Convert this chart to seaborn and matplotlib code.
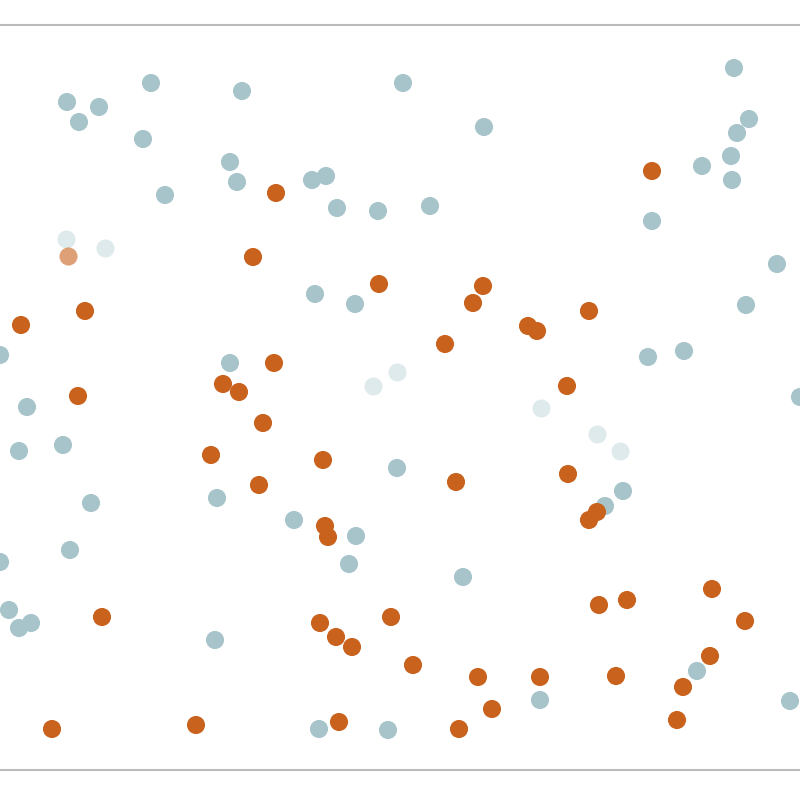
import matplotlib
matplotlib.use("Agg")
import matplotlib.pyplot as plt
import seaborn as sns
import pandas as pd

# --- data (canvas-like units, y grows downward) ---
blue_x = [67, 79, 99, 151, 143, 242, 165, 230, 237, 312, 326, 337, 378, 430, 403, 484,
          734, 749, 737, 731, 732, 702, 652, 777, 746, 684, 648, 315, 355, 230, 0, 27,
          19, 63, 91, 217, 294, 356, 349, 397, 463, 623, 605, 800, 70, 9, 19, 31, 215,
          697, 540, 790, 319, 388, 0]
blue_y = [102, 122, 107, 83, 139, 91, 195, 162, 182, 180, 176, 208, 211, 206, 83, 127,
          68, 119, 133, 156, 180, 166, 221, 264, 305, 351, 357, 294, 304, 363, 355, 407,
          451, 445, 503, 498, 520, 536, 564, 468, 577, 491, 506, 397, 550, 610, 628, 623,
          640, 671, 700, 701, 729, 730, 562]

orange_x = [276, 652, 253, 85, 21, 379, 483, 473, 528, 537, 589, 445, 274, 223, 239, 78,
            567, 263, 211, 323, 259, 456, 568, 325, 328, 589, 597, 102, 320, 336, 352, 391,
            599, 627, 712, 745, 710, 683, 616, 540, 478, 413, 492, 459, 339, 196, 52, 677]
orange_y = [193, 171, 257, 311, 325, 284, 286, 303, 326, 331, 311, 344, 363, 384, 392, 396,
            386, 423, 455, 460, 485, 482, 474, 526, 537, 520, 512, 617, 623, 637, 647, 617,
            605, 600, 589, 621, 656, 687, 676, 677, 677, 665, 709, 729, 722, 725, 729, 720]

# faint, blurred points (mid-transition)
ghost_blue_x = [66, 105, 373, 397, 541, 597, 620]
ghost_blue_y = [239, 248, 386, 372, 408, 434, 451]
ghost_orange_x = [68]
ghost_orange_y = [256]

BLUE = "#a6c4c9"
ORANGE = "#c9621c"

df = pd.concat([
    pd.DataFrame({"x": blue_x, "y": blue_y, "grp": "a"}),
    pd.DataFrame({"x": orange_x, "y": orange_y, "grp": "b"}),
])

sns.set_style("white")
fig = plt.figure(figsize=(8, 8), dpi=100)
ax = fig.add_axes([0, 1 - 770 / 800, 1, (770 - 25) / 800])

sns.scatterplot(data=df, x="x", y="y", hue="grp", palette={"a": BLUE, "b": ORANGE},
                s=170, linewidth=0, legend=False, ax=ax, clip_on=True)
ax.scatter(ghost_blue_x, ghost_blue_y, s=170, color=BLUE, alpha=0.35, linewidth=0)
ax.scatter(ghost_orange_x, ghost_orange_y, s=170, color=ORANGE, alpha=0.6, linewidth=0)

ax.set_xlim(0, 800)
ax.set_ylim(770, 25)
ax.set_xticks([])
ax.set_yticks([])
ax.set_xlabel("")
ax.set_ylabel("")
for side in ["left", "right"]:
    ax.spines[side].set_visible(False)
for side in ["top", "bottom"]:
    ax.spines[side].set_color("#bbbbbb")
    ax.spines[side].set_linewidth(1.5)

fig.savefig("out.png", dpi=100)
